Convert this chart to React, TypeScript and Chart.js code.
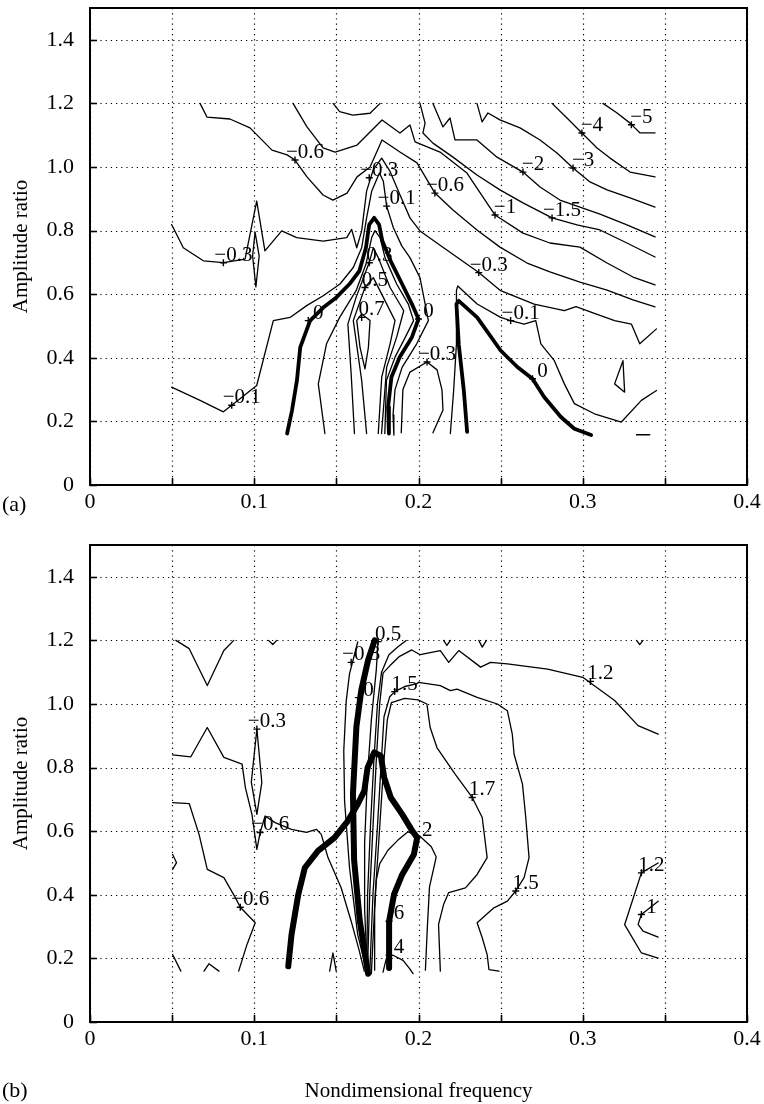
import React, { useEffect, useRef } from 'react';
import { Chart, registerables } from 'chart.js';
Chart.register(...registerables);

type Pt = [number, number];
type Lbl = [string, number, number];

const FONT = "'Liberation Serif', 'Times New Roman', Times, serif";

// ---------- axes ----------
const xTicks = [0, 0.05, 0.1, 0.15, 0.2, 0.25, 0.3, 0.35, 0.4];
const xTickLabels = ['0', '', '0.1', '', '0.2', '', '0.3', '', '0.4'];
const yTicks = [0, 0.2, 0.4, 0.6, 0.8, 1.0, 1.2, 1.4];
const yTickLabels = ['0', '0.2', '0.4', '0.6', '0.8', '1.0', '1.2', '1.4'];
const xRange: Pt = [0, 0.4];
const yRange: Pt = [0, 1.5];

// ---------- panel (a) contours ----------
const aM5: Pt[] = [[0.3123, 1.2], [0.3209, 1.17], [0.3288, 1.138], [0.3349, 1.107], [0.344, 1.107]];
const aM4: Pt[] = [[0.2813, 1.2], [0.2904, 1.154], [0.2995, 1.107], [0.3087, 1.06], [0.3166, 1.028], [0.3288, 0.984], [0.344, 0.969]];
const aM3: Pt[] = [[0.2356, 1.2], [0.2387, 1.142], [0.2423, 1.17], [0.2496, 1.148], [0.2618, 1.123], [0.274, 1.085], [0.2843, 1.044], [0.2941, 0.997], [0.3044, 0.953], [0.3148, 0.928], [0.3288, 0.903], [0.344, 0.874]];
const aM2: Pt[] = [[0.2088, 1.2], [0.2149, 1.126], [0.2192, 1.154], [0.2222, 1.085], [0.2356, 1.085], [0.2478, 1.031], [0.2636, 0.984], [0.274, 0.937], [0.2861, 0.896], [0.2983, 0.874], [0.3105, 0.852], [0.3269, 0.818], [0.344, 0.78]];
const aM15: Pt[] = [[0.2009, 1.2], [0.204, 1.138], [0.2027, 1.107], [0.2088, 1.075], [0.221, 1.031], [0.2356, 0.975], [0.2496, 0.928], [0.2636, 0.887], [0.2813, 0.84], [0.2965, 0.818], [0.3105, 0.802], [0.3269, 0.761], [0.344, 0.717]];
const aM1: Pt[] = [[0.1236, 1.2], [0.1321, 1.126], [0.1419, 1.06], [0.1492, 1.047], [0.1626, 1.069], [0.1778, 1.148], [0.1887, 1.107], [0.1948, 1.132], [0.1979, 1.079], [0.2131, 1.047], [0.2295, 0.981], [0.2466, 0.849], [0.2636, 0.792], [0.28, 0.761], [0.2983, 0.748], [0.3148, 0.698], [0.3306, 0.654], [0.344, 0.629]];
const aM06: Pt[] = [[0.067, 1.2], [0.0712, 1.157], [0.0852, 1.151], [0.0974, 1.123], [0.1108, 1.053], [0.12, 1.038], [0.1248, 1.022], [0.1321, 0.969], [0.1419, 0.912], [0.1479, 0.896], [0.1565, 0.918], [0.1626, 0.969], [0.1705, 1.0], [0.1778, 1.085], [0.1887, 1.047], [0.1991, 1.013], [0.21, 0.918], [0.221, 0.865], [0.2356, 0.802], [0.2496, 0.748], [0.2661, 0.698], [0.28, 0.67], [0.2983, 0.638], [0.3148, 0.613], [0.3306, 0.582], [0.344, 0.56]];
const aM03: Pt[] = [[0.0497, 0.819], [0.0568, 0.746], [0.069, 0.705], [0.0812, 0.699], [0.0944, 0.71], [0.1015, 0.893], [0.1065, 0.736], [0.1167, 0.799], [0.1258, 0.778], [0.142, 0.767], [0.1563, 0.778], [0.1593, 0.804], [0.1624, 0.746], [0.1654, 0.799], [0.1684, 0.924], [0.1725, 0.992], [0.1776, 1.028], [0.1827, 0.986], [0.1887, 0.913], [0.1948, 0.84], [0.2009, 0.799], [0.2153, 0.746], [0.2367, 0.668], [0.25, 0.611], [0.2704, 0.569], [0.2888, 0.548], [0.2959, 0.561], [0.3071, 0.54], [0.3194, 0.517], [0.3296, 0.506], [0.3347, 0.444], [0.3449, 0.491]];
const aM03Loop: Pt[] = [[0.1005, 0.795], [0.103, 0.72], [0.101, 0.623], [0.099, 0.72], [0.1005, 0.795]];
const aM01Left: Pt[] = [[0.0497, 0.308], [0.067, 0.266], [0.0812, 0.23], [0.0863, 0.251], [0.1015, 0.313], [0.1116, 0.517], [0.1218, 0.527], [0.1319, 0.564], [0.142, 0.595], [0.1522, 0.632], [0.1603, 0.684], [0.1654, 0.746], [0.1684, 0.84], [0.1715, 0.924], [0.1762, 0.981], [0.1786, 0.955], [0.1806, 0.877], [0.1847, 0.809], [0.1898, 0.752], [0.1948, 0.715], [0.2009, 0.652], [0.206, 0.517], [0.1989, 0.444], [0.19, 0.37], [0.1857, 0.3], [0.1845, 0.22], [0.185, 0.157]];
const aM03Bottom: Pt[] = [[0.1895, 0.164], [0.1905, 0.3], [0.1948, 0.355], [0.2052, 0.387], [0.2113, 0.362], [0.2143, 0.299], [0.2149, 0.236], [0.2088, 0.164]];
const aM01Right: Pt[] = [[0.2194, 0.162], [0.2214, 0.297], [0.2231, 0.444], [0.2231, 0.611], [0.2239, 0.626], [0.2357, 0.569], [0.25, 0.527], [0.2561, 0.517], [0.2643, 0.506], [0.2714, 0.517], [0.2745, 0.444], [0.2827, 0.391], [0.2888, 0.318], [0.2949, 0.256], [0.3071, 0.224], [0.3235, 0.198], [0.3357, 0.266], [0.3449, 0.297]];
const aP01: Pt[] = [[0.143, 0.162], [0.139, 0.318], [0.144, 0.444], [0.152, 0.527], [0.162, 0.611], [0.168, 0.694], [0.1715, 0.778], [0.1735, 0.8], [0.1766, 0.778], [0.1796, 0.715], [0.1867, 0.632], [0.1938, 0.569], [0.197, 0.517], [0.192, 0.465], [0.1857, 0.402], [0.1805, 0.329], [0.1795, 0.162]];
const aP03: Pt[] = [[0.161, 0.162], [0.159, 0.35], [0.157, 0.506], [0.162, 0.59], [0.17, 0.7], [0.1725, 0.746], [0.1755, 0.715], [0.1827, 0.621], [0.191, 0.548], [0.1867, 0.465], [0.1806, 0.37], [0.1775, 0.162]];
const aP05: Pt[] = [[0.1684, 0.162], [0.1654, 0.329], [0.1603, 0.517], [0.1674, 0.621], [0.1725, 0.652], [0.1786, 0.59], [0.1857, 0.517], [0.1827, 0.444], [0.1776, 0.339], [0.1755, 0.162]];
const aP07: Pt[] = [[0.1624, 0.517], [0.1654, 0.538], [0.1705, 0.517], [0.1695, 0.433], [0.1674, 0.365], [0.1644, 0.433], [0.1624, 0.517]];
const aTopU: Pt[] = [[0.148, 1.2], [0.152, 1.174], [0.16, 1.163], [0.1705, 1.169], [0.1766, 1.2]];
const aTriangle: Pt[] = [[0.3194, 0.318], [0.3245, 0.391], [0.3255, 0.292], [0.3194, 0.318]];
const aDash: Pt[] = [[0.3327, 0.158], [0.3408, 0.158]];
const aZeroLeft: Pt[] = [[0.12, 0.162], [0.123, 0.235], [0.126, 0.329], [0.128, 0.433], [0.134, 0.517], [0.142, 0.558], [0.15, 0.59], [0.158, 0.632], [0.164, 0.673], [0.168, 0.746], [0.17, 0.819], [0.173, 0.84], [0.176, 0.819], [0.178, 0.767], [0.183, 0.705], [0.19, 0.632], [0.196, 0.569], [0.2, 0.522], [0.196, 0.465], [0.1885, 0.402], [0.1835, 0.339], [0.1815, 0.245], [0.182, 0.162]];
const aZeroRight: Pt[] = [[0.2296, 0.167], [0.2276, 0.297], [0.2245, 0.443], [0.2231, 0.569], [0.2245, 0.579], [0.2357, 0.527], [0.25, 0.423], [0.2602, 0.371], [0.2694, 0.334], [0.2765, 0.277], [0.2867, 0.214], [0.2949, 0.177], [0.3051, 0.157]];
const aLabels: Lbl[] = [
  ['−5', 0.3296, 1.133], ['−4', 0.2995, 1.107], ['−3', 0.2941, 0.997], ['−2', 0.2636, 0.984],
  ['−1.5', 0.2813, 0.84], ['−1', 0.2466, 0.849], ['−0.6', 0.21, 0.918], ['−0.6', 0.1248, 1.022],
  ['−0.3', 0.0812, 0.699], ['−0.3', 0.17, 0.966], ['−0.1', 0.1806, 0.877], ['0', 0.1329, 0.517],
  ['0.3', 0.1701, 0.699], ['0.5', 0.1674, 0.621], ['0.7', 0.1654, 0.527], ['0', 0.2, 0.522],
  ['−0.1', 0.0863, 0.251], ['−0.3', 0.2052, 0.387], ['−0.1', 0.2561, 0.517], ['0', 0.2694, 0.334],
  ['−0.3', 0.2367, 0.668],
];

// ---------- panel (b) contours ----------
const bM06Upper: Pt[] = [[0.0503, 0.84], [0.0614, 0.834], [0.0714, 0.926], [0.0815, 0.832], [0.0926, 0.811], [0.0946, 0.737], [0.0986, 0.653], [0.1016, 0.543], [0.1036, 0.596], [0.1066, 0.648], [0.1127, 0.627], [0.1227, 0.606], [0.1318, 0.596], [0.1378, 0.606], [0.1408, 0.59], [0.1449, 0.517], [0.1529, 0.422], [0.159, 0.317], [0.164, 0.223], [0.167, 0.16]];
const bM03Loop: Pt[] = [[0.1016, 0.921], [0.1046, 0.753], [0.1016, 0.653], [0.0982, 0.754], [0.1016, 0.921]];
const bM06Lower: Pt[] = [[0.0503, 0.69], [0.0604, 0.687], [0.0664, 0.59], [0.0714, 0.48], [0.0815, 0.454], [0.0885, 0.391], [0.0915, 0.361], [0.1006, 0.312], [0.0956, 0.244], [0.0905, 0.16]];
const bTopV: Pt[] = [[0.0523, 1.2], [0.0604, 1.174], [0.0714, 1.058], [0.0815, 1.168], [0.0875, 1.2]];
const bTopTick1: Pt[] = [[0.1087, 1.2], [0.1113, 1.187], [0.1137, 1.2]];
const bTopTick2: Pt[] = [[0.2153, 1.2], [0.2173, 1.184], [0.2194, 1.2]];
const bTopTick3: Pt[] = [[0.2367, 1.2], [0.2388, 1.179], [0.2414, 1.2]];
const bTopTick4: Pt[] = [[0.3327, 1.2], [0.3347, 1.187], [0.3367, 1.2]];
const bBottomA: Pt[] = [[0.0503, 0.212], [0.0553, 0.16]];
const bBottomB: Pt[] = [[0.0694, 0.16], [0.0724, 0.183], [0.0785, 0.16]];
const bBottomC: Pt[] = [[0.1459, 0.16], [0.1479, 0.217], [0.1499, 0.16]];
const bEdgeArc: Pt[] = [[0.0503, 0.527], [0.0527, 0.501], [0.0503, 0.48]];
const bM03: Pt[] = [[0.163, 1.195], [0.158, 1.095], [0.156, 1.01], [0.1545, 0.853], [0.155, 0.695], [0.158, 0.485], [0.163, 0.275], [0.169, 0.149]];
const bP05: Pt[] = [[0.1754, 1.2], [0.1743, 1.107], [0.1713, 0.95], [0.1689, 0.772], [0.1672, 0.563], [0.1672, 0.353], [0.1689, 0.152]];
const bC: Pt[] = [[0.1685, 0.152], [0.169, 0.4], [0.1708, 0.62], [0.1728, 0.82], [0.175, 1.0], [0.1775, 1.1], [0.182, 1.155], [0.1875, 1.18], [0.1925, 1.2]];
const bP12: Pt[] = [[0.1689, 0.152], [0.1703, 0.404], [0.1723, 0.614], [0.1743, 0.824], [0.1764, 1.002], [0.1784, 1.097], [0.1825, 1.12], [0.1885, 1.15], [0.1959, 1.17], [0.201, 1.155], [0.2133, 1.168], [0.2184, 1.131], [0.2245, 1.168], [0.2378, 1.116], [0.2439, 1.131], [0.2541, 1.126], [0.2786, 1.11], [0.3, 1.084], [0.3194, 1.011], [0.3337, 0.932], [0.3459, 0.905]];
const bP15: Pt[] = [[0.1703, 0.152], [0.1723, 0.404], [0.175, 0.614], [0.1774, 0.824], [0.179, 0.96], [0.1825, 1.023], [0.1855, 1.039], [0.1916, 1.055], [0.1987, 1.063], [0.2, 1.068], [0.2133, 1.058], [0.2194, 1.042], [0.2235, 1.047], [0.2357, 1.021], [0.248, 1.0], [0.2541, 0.979], [0.2571, 0.905], [0.2582, 0.842], [0.2633, 0.748], [0.2653, 0.643], [0.2673, 0.517], [0.2643, 0.454], [0.2592, 0.412], [0.2541, 0.38], [0.2459, 0.359], [0.2357, 0.312], [0.2388, 0.265], [0.2418, 0.212], [0.2429, 0.165], [0.249, 0.16]];
const bP17: Pt[] = [[0.1713, 0.152], [0.1737, 0.404], [0.1764, 0.614], [0.179, 0.824], [0.181, 0.95], [0.1835, 1.004], [0.1916, 1.018], [0.1997, 1.013], [0.2051, 1.0], [0.2071, 0.926], [0.2112, 0.863], [0.2224, 0.779], [0.2327, 0.706], [0.2388, 0.643], [0.2418, 0.517], [0.2357, 0.464], [0.2286, 0.422], [0.2184, 0.407], [0.2153, 0.37], [0.2122, 0.307], [0.2133, 0.16]];
const bInner: Pt[] = [[0.1733, 0.163], [0.1733, 0.352], [0.1743, 0.446], [0.1764, 0.498], [0.1814, 0.54], [0.1875, 0.572], [0.1936, 0.598], [0.2007, 0.585], [0.2078, 0.551], [0.2108, 0.519], [0.2067, 0.425], [0.2054, 0.299], [0.2042, 0.163]];
const bArc4: Pt[] = [[0.1784, 0.157], [0.1804, 0.199], [0.1845, 0.21], [0.1906, 0.194], [0.1946, 0.168], [0.1967, 0.152]];
const bE12: Pt[] = [[0.3459, 0.5], [0.3357, 0.469], [0.3255, 0.306], [0.3357, 0.217], [0.3459, 0.201]];
const bE1: Pt[] = [[0.3459, 0.38], [0.3357, 0.338], [0.3337, 0.307], [0.3367, 0.286], [0.3459, 0.267]];
const bThick2: Pt[] = [[0.1207, 0.175], [0.1227, 0.275], [0.1268, 0.401], [0.1308, 0.485], [0.1388, 0.538], [0.1489, 0.58], [0.1569, 0.632], [0.163, 0.685], [0.167, 0.727], [0.169, 0.8], [0.173, 0.848], [0.1771, 0.837], [0.1791, 0.769], [0.1831, 0.706], [0.1901, 0.653], [0.1962, 0.601], [0.1992, 0.58], [0.1972, 0.527], [0.1901, 0.464], [0.1851, 0.401], [0.1821, 0.317], [0.1821, 0.17]];
const bThick0: Pt[] = [[0.1733, 1.2], [0.1693, 1.138], [0.1652, 1.044], [0.1622, 0.929], [0.1601, 0.719], [0.1608, 0.509], [0.1642, 0.32], [0.1693, 0.152]];
const bLabels: Lbl[] = [
  ['0.5', 0.1754, 1.196], ['−0.3', 0.159, 1.131], ['0', 0.1635, 1.02], ['1.5', 0.1855, 1.039],
  ['1.2', 0.3047, 1.071], ['1.7', 0.2327, 0.706], ['2', 0.1992, 0.58], ['1.5', 0.2592, 0.412],
  ['1.2', 0.3357, 0.469], ['1', 0.3357, 0.338], ['6', 0.1821, 0.317], ['4', 0.1821, 0.21],
  ['−0.3', 0.1016, 0.921], ['−0.6', 0.1036, 0.596], ['−0.6', 0.0915, 0.361],
];

const aThin = [aM5, aM4, aM3, aM2, aM15, aM1, aM06, aM03, aM03Loop, aM01Left, aM03Bottom, aM01Right, aP01, aP03, aP05, aP07, aTopU, aTriangle, aDash];
const aThick = [aZeroLeft, aZeroRight];
const bThin = [bM06Upper, bM03Loop, bM06Lower, bTopV, bTopTick1, bTopTick2, bTopTick3, bTopTick4, bBottomA, bBottomB, bBottomC, bEdgeArc, bM03, bP05, bC, bP12, bP15, bP17, bInner, bArc4, bE12, bE1];
const bThick = [bThick2, bThick0];

interface PanelSpec {
  height: number;
  topPad: number;
  plotBottom: number;
  thin: Pt[][];
  thick: Pt[][];
  thickWidth: number;
  labels: Lbl[];
  tag: string;
  tagBaseline: number;
  xTitle?: string;
}

function lineDs(pts: Pt[], width: number) {
  return {
    data: pts.map(([x, y]) => ({ x, y })),
    showLine: true,
    borderColor: '#000',
    backgroundColor: '#000',
    borderWidth: width,
    pointRadius: 0,
    pointHoverRadius: 0,
    tension: 0,
    fill: false,
    borderJoinStyle: 'round',
    borderCapStyle: 'round',
  };
}

function makeConfig(p: PanelSpec): any {
  const frame = {
    id: 'frame',
    beforeDatasetsDraw(chart: any) {
      const { ctx, chartArea: a, scales } = chart;
      const xs = scales.x, ys = scales.y;
      ctx.save();
      ctx.strokeStyle = '#000';
      ctx.lineWidth = 1.2;
      ctx.setLineDash([1.2, 4]);
      xTicks.forEach((v) => {
        const px = Math.round(xs.getPixelForValue(v)) + 0.5;
        ctx.beginPath(); ctx.moveTo(px, a.top); ctx.lineTo(px, a.bottom); ctx.stroke();
      });
      yTicks.forEach((v) => {
        const py = Math.round(ys.getPixelForValue(v)) + 0.5;
        ctx.beginPath(); ctx.moveTo(a.left, py); ctx.lineTo(a.right, py); ctx.stroke();
      });
      ctx.restore();
    },
    afterDatasetsDraw(chart: any) {
      const { ctx, chartArea: a, scales } = chart;
      const xs = scales.x, ys = scales.y;
      ctx.save();
      ctx.strokeStyle = '#000';
      ctx.setLineDash([]);
      ctx.lineWidth = 1.6;
      xTicks.forEach((v) => {
        const px = Math.round(xs.getPixelForValue(v)) + 0.5;
        ctx.beginPath(); ctx.moveTo(px, a.bottom); ctx.lineTo(px, a.bottom - 7); ctx.stroke();
      });
      yTicks.forEach((v) => {
        const py = Math.round(ys.getPixelForValue(v)) + 0.5;
        ctx.beginPath(); ctx.moveTo(a.left, py); ctx.lineTo(a.left + 7, py); ctx.stroke();
      });
      ctx.lineWidth = 2;
      ctx.strokeRect(a.left, a.top, a.right - a.left, a.bottom - a.top);
      // contour labels
      ctx.fillStyle = '#000';
      ctx.font = `21px ${FONT}`;
      ctx.textAlign = 'center';
      ctx.textBaseline = 'alphabetic';
      p.labels.forEach(([t, vx, vy]) => {
        ctx.fillText(t, xs.getPixelForValue(vx) + 10, ys.getPixelForValue(vy) - 2);
      });
      ctx.restore();
    },
    afterDraw(chart: any) {
      const { ctx, chartArea: a } = chart;
      ctx.save();
      ctx.fillStyle = '#000';
      ctx.font = `21px ${FONT}`;
      ctx.textAlign = 'center';
      ctx.textBaseline = 'middle';
      ctx.translate(21, (a.top + a.bottom) / 2);
      ctx.rotate(-Math.PI / 2);
      ctx.fillText('Amplitude ratio', 0, 0);
      ctx.restore();
      ctx.save();
      ctx.fillStyle = '#000';
      ctx.font = `22px ${FONT}`;
      ctx.textAlign = 'left';
      ctx.textBaseline = 'alphabetic';
      ctx.fillText(p.tag, 2, p.tagBaseline);
      if (p.xTitle) {
        ctx.font = `21px ${FONT}`;
        ctx.textAlign = 'center';
        ctx.fillText(p.xTitle, (a.left + a.right) / 2, p.tagBaseline);
      }
      ctx.restore();
    },
  };

  const tickFont = { family: FONT, size: 22 };
  return {
    type: 'scatter',
    data: {
      datasets: [
        ...p.thin.map((c) => lineDs(c, 1.3)),
        ...p.thick.map((c) => lineDs(c, p.thickWidth)),
        {
          data: p.labels.map(([, x, y]) => ({ x, y })),
          showLine: false,
          pointStyle: 'cross',
          pointRadius: 3.5,
          pointHoverRadius: 3.5,
          pointBorderWidth: 1.4,
          pointBorderColor: '#000',
          pointBackgroundColor: '#000',
          borderColor: '#000',
        },
      ],
    },
    options: {
      responsive: false,
      animation: false,
      events: [],
      layout: { padding: { top: p.topPad, right: 17, left: 0, bottom: 0 } },
      plugins: { legend: { display: false }, tooltip: { enabled: false }, title: { display: false } },
      scales: {
        x: {
          type: 'linear',
          min: xRange[0],
          max: xRange[1],
          grid: { display: false, drawTicks: false },
          border: { display: false },
          afterBuildTicks: (s: any) => { s.ticks = xTicks.map((v) => ({ value: v })); },
          afterFit: (s: any) => { s.height = p.height - p.plotBottom; s.paddingLeft = 0; s.paddingRight = 0; },
          ticks: {
            autoSkip: false,
            maxRotation: 0,
            minRotation: 0,
            padding: 4,
            color: '#000',
            font: tickFont,
            callback: (_v: any, i: number) => xTickLabels[i],
          },
        },
        y: {
          type: 'linear',
          min: yRange[0],
          max: yRange[1],
          grid: { display: false, drawTicks: false },
          border: { display: false },
          afterBuildTicks: (s: any) => { s.ticks = yTicks.map((v) => ({ value: v })); },
          afterFit: (s: any) => { s.width = 90; s.paddingTop = 0; s.paddingBottom = 0; },
          ticks: {
            autoSkip: false,
            padding: 16,
            color: '#000',
            font: tickFont,
            callback: (_v: any, i: number) => yTickLabels[i],
          },
        },
      },
    },
    plugins: [frame],
  };
}

function Panel({ spec }: { spec: PanelSpec }) {
  const ref = useRef<HTMLCanvasElement>(null);
  useEffect(() => {
    const chart = new Chart(ref.current as HTMLCanvasElement, makeConfig(spec));
    return () => chart.destroy();
  }, [spec]);
  return (
    <canvas
      ref={ref}
      width={764}
      height={spec.height}
      style={{ display: 'block', width: 764, height: spec.height }}
    />
  );
}

const specA: PanelSpec = {
  height: 540, topPad: 8, plotBottom: 485, thin: aThin, thick: aThick, thickWidth: 3.8,
  labels: aLabels, tag: '(a)', tagBaseline: 511,
};
const specB: PanelSpec = {
  height: 564, topPad: 5, plotBottom: 482, thin: bThin, thick: bThick, thickWidth: 6,
  labels: bLabels, tag: '(b)', tagBaseline: 557, xTitle: 'Nondimensional frequency',
};

export default function App() {
  return (
    <div style={{ position: 'absolute', left: 0, top: 0, width: 764, height: 1104, background: '#fff' }}>
      <Panel spec={specA} />
      <Panel spec={specB} />
    </div>
  );
}
